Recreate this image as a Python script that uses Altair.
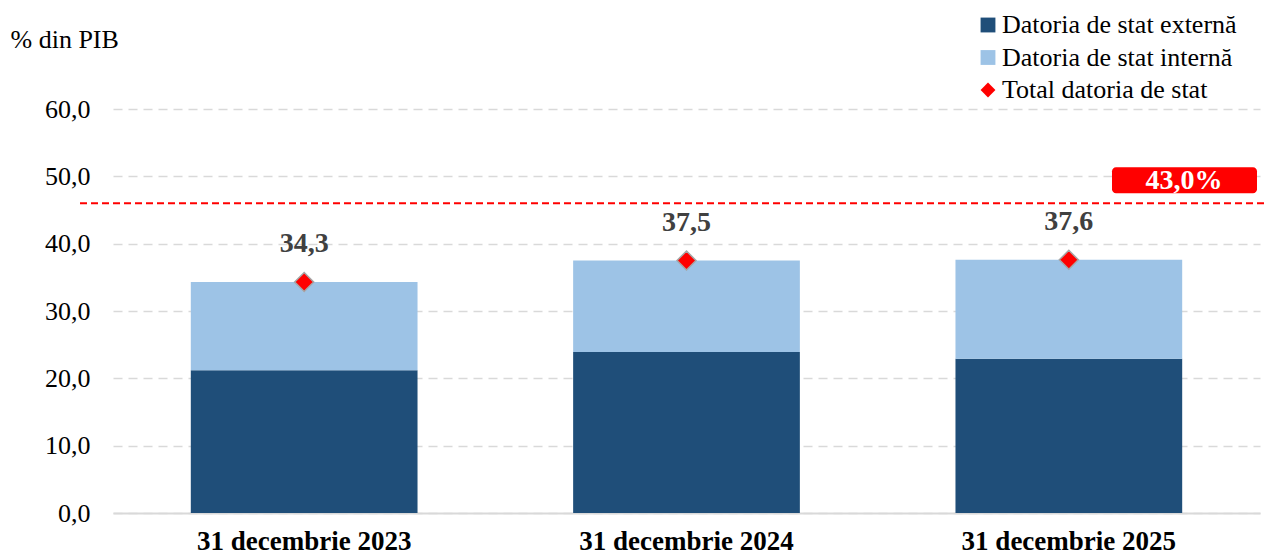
import altair as alt
import pandas as pd

categories = ["31 decembrie 2023", "31 decembrie 2024", "31 decembrie 2025"]
external = [21.2, 23.9, 22.9]
internal = [13.1, 13.6, 14.7]
total = [34.3, 37.5, 37.6]
series_names = ["Datoria de stat externă", "Datoria de stat internă", "Total datoria de stat"]
series_colors = ["#1F4E79", "#9DC3E6", "#FF0000"]
series_shapes = ["square", "square", "diamond"]
y_ticks = [0, 10, 20, 30, 40, 50, 60]
limit_value = [46.0]
limit_label = ["43,0%"]

FONT = "Liberation Serif"

rows = []
for c, e, i in zip(categories, external, internal):
    rows.append({"cat": c, "val": e, "serie": series_names[0], "ord": 0})
    rows.append({"cat": c, "val": i, "serie": series_names[1], "ord": 1})
bars_df = pd.DataFrame(rows)

tot_df = pd.DataFrame({
    "cat": categories,
    "total": total,
    "serie": [series_names[2]] * len(categories),
    "label": [f"{v:.1f}".replace(".", ",") for v in total],
})

lim_df = pd.DataFrame({"limit": limit_value, "label": limit_label})

color_scale = alt.Scale(domain=series_names, range=series_colors)
shape_scale = alt.Scale(domain=series_names, range=series_shapes)

legend_spec = alt.Legend(
    orient="none", legendX=862, legendY=-97, title=None,
    labelFont=FONT, labelFontSize=26, labelColor="#000000",
    symbolSize=220, rowPadding=6.5, labelOffset=1, symbolStrokeWidth=0,
    labelLimit=400, symbolOpacity=1,
)

x_enc = alt.X(
    "cat:N",
    sort=categories,
    scale=alt.Scale(paddingInner=0.407, paddingOuter=0.2035),
    axis=alt.Axis(
        title=None, labelAngle=0, labelFont=FONT, labelFontSize=27,
        labelFontWeight="bold", labelColor="#000000", labelPadding=15,
        labelLimit=400,
        ticks=False, domain=True, domainColor="#D9D9D9", domainWidth=2,
        grid=False,
    ),
)

y_scale = alt.Scale(domain=[0, 60], nice=False)
y_axis = alt.Axis(
    values=y_ticks,
    labelExpr="replace(format(datum.value, '.1f'), '.', ',')",
    grid=True, gridColor="#D9D9D9", gridDash=[9, 6], gridWidth=1.5,
    domain=False, ticks=False, labelPadding=23,
    labelFont=FONT, labelFontSize=26, labelColor="#000000",
    title="% din PIB", titleAngle=0, titleX=-103, titleY=-62,
    titleAlign="left", titleBaseline="alphabetic", titleFont=FONT,
    titleFontSize=26, titleFontWeight="normal", titleColor="#000000",
)

bars = alt.Chart(bars_df).mark_bar().encode(
    x=x_enc,
    y=alt.Y("val:Q", stack="zero", scale=y_scale, axis=y_axis),
    color=alt.Color("serie:N", scale=color_scale, legend=legend_spec),
    order=alt.Order("ord:Q"),
)

points = alt.Chart(tot_df).mark_point(
    filled=True, size=360, opacity=1, stroke="#A6A6A6", strokeWidth=1.5
).encode(
    x=alt.X("cat:N", sort=categories),
    y=alt.Y("total:Q"),
    color=alt.Color("serie:N", scale=color_scale, legend=legend_spec),
    shape=alt.Shape("serie:N", scale=shape_scale, legend=legend_spec),
)

labels = alt.Chart(tot_df).mark_text(
    dy=-38, font=FONT, fontSize=28, fontWeight="bold", color="#404040",
    baseline="middle",
).encode(
    x=alt.X("cat:N", sort=categories),
    y=alt.Y("total:Q"),
    text="label:N",
)

rule = alt.Chart(lim_df).mark_rule(
    color="#FF0000", strokeDash=[7, 4], strokeWidth=2
).encode(
    y=alt.Y("limit:Q"),
    x=alt.value(-33),
    x2=alt.value(1160),
)

box = alt.Chart(lim_df).mark_rect(
    color="#FF0000", cornerRadius=4, yOffset=-36, y2Offset=-10
).encode(
    y=alt.Y("limit:Q"),
    y2=alt.Y2("limit"),
    x=alt.value(999),
    x2=alt.value(1144),
)

box_text = alt.Chart(lim_df).mark_text(
    dy=-22, font=FONT, fontSize=28, fontWeight="bold", color="#FFFFFF",
    baseline="middle", align="center",
).encode(
    y=alt.Y("limit:Q"),
    x=alt.value(1071),
    text="label:N",
)

chart = alt.layer(bars, points, labels, rule, box, box_text).properties(
    width=1147,
    height=404,
    autosize=alt.AutoSizeParams(type="none"),
    padding={"left": 105, "top": 101, "right": 4, "bottom": 42},
).configure(font=FONT).configure_view(strokeWidth=0, stroke="transparent")

chart.save("out.html", embed_options={"renderer": "svg", "actions": False})
